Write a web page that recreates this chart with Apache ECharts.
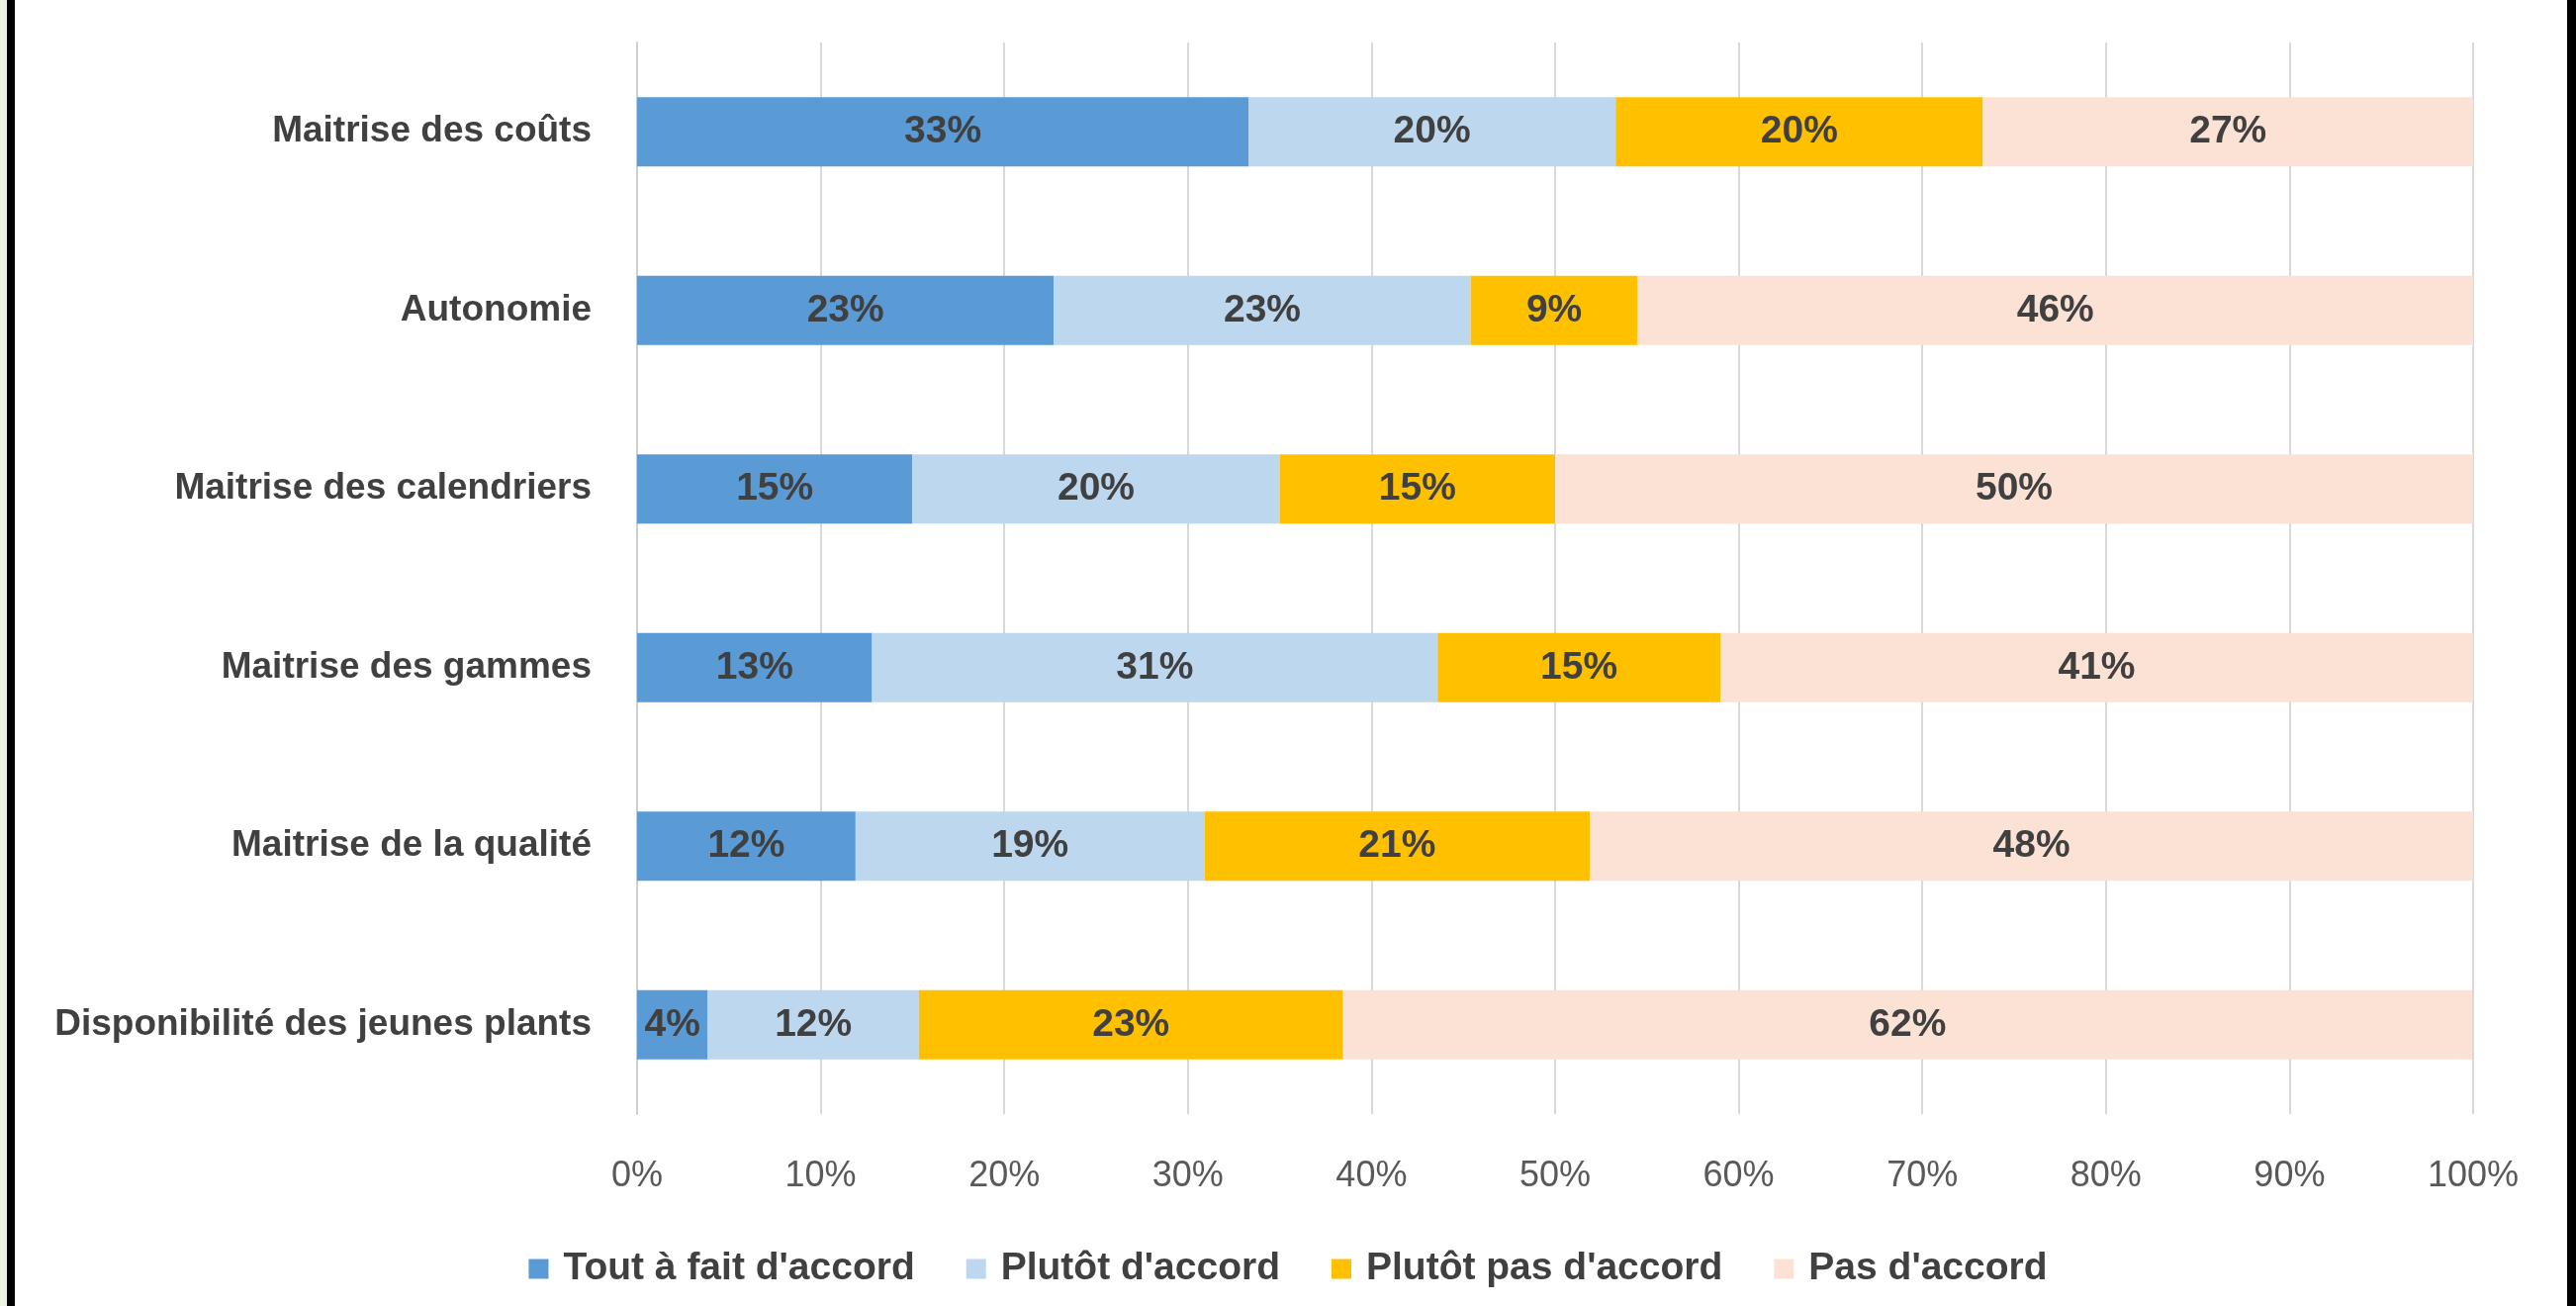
<!DOCTYPE html>
<html>
<head>
<meta charset="utf-8">
<script src="https://cdn.jsdelivr.net/npm/echarts@6/dist/echarts.min.js"></script>
<style>
	html,body{margin:0;padding:0;background:#fff;}
	.wrap{position:relative;width:2604px;height:1320px;overflow:hidden;}
	#chart{position:absolute;left:0;top:0;width:2604px;height:1320px;}
	.edge_green{position:absolute;left:0;top:0;width:7px;height:1320px;background:#eef4e2;}
	.edge_left{position:absolute;left:7px;top:0;width:8px;height:1320px;background:#000;}
	.edge_right{position:absolute;left:2595px;top:0;width:9px;height:1320px;background:#000;}
</style>
</head>
<body>
<div class="wrap">
	<div id="chart"></div>
	<div class="edge_green"></div>
	<div class="edge_left"></div>
	<div class="edge_right"></div>
</div>
<script>
	// categories, top to bottom
	var categories = ['Maitrise des coûts','Autonomie','Maitrise des calendriers','Maitrise des gammes','Maitrise de la qualité','Disponibilité des jeunes plants'];
	var series_names = ["Tout à fait d'accord","Plutôt d'accord","Plutôt pas d'accord","Pas d'accord"];
	var series_colors = ['#5b9bd5','#bdd7ee','#ffc000','#fbe2d5'];
	// values in %
	var tout_a_fait = [33.3, 22.7, 15.0, 12.8, 11.9, 3.85];
	var plutot = [20.0, 22.7, 20.0, 30.8, 19.0, 11.5];
	var plutot_pas = [20.0, 9.1, 15.0, 15.4, 21.0, 23.1];
	var pas = [26.7, 45.5, 50.0, 41.0, 48.1, 61.5];
	var x_ticks = [0,10,20,30,40,50,60,70,80,90,100];

	var font = "'Liberation Sans', Arial, sans-serif";
	var chart = echarts.init(document.getElementById('chart'));

	var values_list = [tout_a_fait, plutot, plutot_pas, pas];
	var series = [];
	for(var i = 0; i < series_names.length; i++){
		series.push({
			name: series_names[i],
			type: 'bar',
			stack: 'total',
			barWidth: 70,
			itemStyle: {color: series_colors[i]},
			label: {
				show: true,
				position: 'inside',
				formatter: function(p){ return Math.round(p.value) + '%'; },
				fontFamily: font,
				fontSize: 39,
				fontWeight: 'bold',
				color: '#404040'
			},
			data: values_list[i]
		});
	}

	chart.setOption({
		animation: false,
		backgroundColor: '#fff',
		grid: {left: 644, right: 104, top: 43, bottom: 194, containLabel: false},
		legend: {
			data: series_names,
			left: 'center',
			top: 1258,
			icon: 'rect',
			itemWidth: 20,
			itemHeight: 20,
			itemGap: 52,
			textStyle: {fontFamily: font, fontSize: 39, fontWeight: 'bold', color: '#404040', padding: [0,0,0,10]}
		},
		xAxis: {
			type: 'value',
			min: x_ticks[0],
			max: x_ticks[x_ticks.length - 1],
			interval: 10,
			axisLine: {show: false},
			axisTick: {show: false},
			splitLine: {show: true, lineStyle: {color: '#d9d9d9', width: 2}},
			axisLabel: {formatter: '{value}%', fontFamily: font, fontSize: 36, color: '#595959', margin: 45}
		},
		yAxis: {
			type: 'category',
			inverse: true,
			data: categories,
			axisLine: {show: true, lineStyle: {color: '#cfcfcf', width: 2}},
			axisTick: {show: false},
			axisLabel: {fontFamily: font, fontSize: 37, fontWeight: 'bold', color: '#404040', margin: 46}
		},
		series: series
	});
</script>
</body>
</html>
